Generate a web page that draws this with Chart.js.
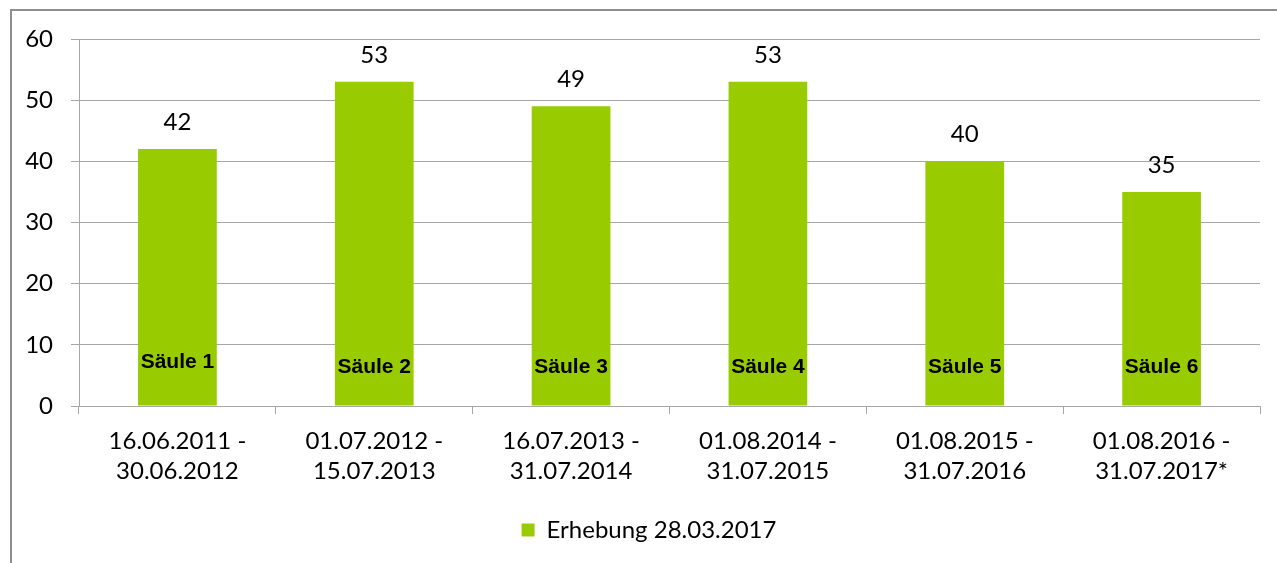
<!DOCTYPE html>
<html>
<head>
<meta charset="utf-8">
<script src="https://cdn.jsdelivr.net/npm/chart.js@4.4.0/dist/chart.umd.min.js"></script>
<style>
  html, body { margin: 0; padding: 0; background: #fff; }
  #wrap { position: relative; width: 1277px; height: 563px; }
  #frame { position: absolute; left: 10px; top: 9px; right: 0; bottom: 0;
           border-top: 2px solid #8e8e8e; border-left: 2px solid #8e8e8e; }
  #box { position: absolute; left: 0; top: 0; width: 1277px; height: 563px; }
</style>
</head>
<body>
<div id="wrap">
  <div id="frame"></div>
  <div id="box"><canvas id="chart"></canvas></div>
</div>
<script>
const periods = [
  ['16.06.2011 -', '30.06.2012'],
  ['01.07.2012 -', '15.07.2013'],
  ['16.07.2013 -', '31.07.2014'],
  ['01.08.2014 -', '31.07.2015'],
  ['01.08.2015 -', '31.07.2016'],
  ['01.08.2016 -', '31.07.2017*']
]
const counts = [42, 53, 49, 53, 40, 35]
const barNames = ['Säule 1', 'Säule 2', 'Säule 3', 'Säule 4', 'Säule 5', 'Säule 6']
const seriesName = 'Erhebung 28.03.2017'

const green = '#99cc00'
const gridGray = '#a6a6a6'
const font = 'Lato, "Open Sans", sans-serif'

// value labels above the bars and the "Säule n" labels inside them
const barText = {
  id: 'barText',
  afterLayout(chart) {
    // legend sits a bit right of centre in the original
    chart.legend.left += 19
    chart.legend.right += 19
  },
  afterDatasetsDraw(chart) {
    const ctx = chart.ctx
    const meta = chart.getDatasetMeta(0)
    const zero = chart.scales.y.getPixelForValue(0)
    ctx.save()
    ctx.textAlign = 'center'
    ctx.textBaseline = 'middle'
    meta.data.forEach((bar, i) => {
      ctx.fillStyle = '#000'
      ctx.font = '24px ' + font
      ctx.fillText(String(counts[i]), bar.x, bar.y - 27)
      ctx.font = 'bold 21px "Liberation Sans", Arial, sans-serif'
      ctx.fillText(barNames[i], bar.x, zero - (i === 0 ? 44 : 39))
    })
    ctx.restore()
  }
}

new Chart(document.getElementById('chart'), {
  type: 'bar',
  data: {
    labels: periods,
    datasets: [{
      label: seriesName,
      data: counts,
      backgroundColor: green,
      borderWidth: 0,
      categoryPercentage: 1,
      barPercentage: 0.4
    }]
  },
  options: {
    responsive: true,
    maintainAspectRatio: false,
    animation: false,
    layout: { padding: { left: 0, right: 17, top: 39, bottom: 11 } },
    plugins: {
      legend: {
        position: 'bottom',
        labels: {
          color: '#000',
          font: { family: font, size: 24 },
          boxWidth: 13,
          boxHeight: 13,
          padding: 20
        }
      },
      tooltip: { enabled: false }
    },
    scales: {
      x: {
        offset: true,
        grid: {
          offset: true,
          drawOnChartArea: false,
          drawTicks: true,
          tickLength: 8,
          color: gridGray
        },
        border: { color: gridGray, width: 1 },
        ticks: {
          color: '#000',
          font: { family: font, size: 24, lineHeight: 1.25 },
          padding: 12,
          maxRotation: 0
        }
      },
      y: {
        min: 0,
        max: 60,
        afterFit(scale) { scale.width = 79 },
        grid: {
          color: gridGray,
          drawTicks: true,
          tickLength: 8
        },
        border: { color: gridGray, width: 1 },
        ticks: {
          stepSize: 10,
          color: '#000',
          font: { family: font, size: 24 },
          padding: 18
        }
      }
    }
  },
  plugins: [barText]
})
</script>
</body>
</html>
